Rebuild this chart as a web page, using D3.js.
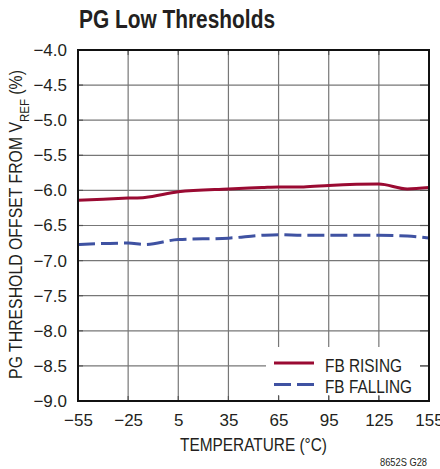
<!DOCTYPE html>
<html>
<head>
<meta charset="utf-8">
<script src="https://cdn.jsdelivr.net/npm/d3@7"></script>
<style>
  body { margin: 0; background: #fff; }
  svg { display: block; }
  text { font-family: "Liberation Sans", Arial, sans-serif; fill: #231f20; }
</style>
</head>
<body>
<div id="chart"></div>
<script>
// temperatures (°C) where the curves were read
const temps = [-55, -25, -15, 5, 35, 55, 65, 80, 95, 125, 142, 155];
// PG threshold offset from VREF (%)
const fbRising = [-6.14, -6.11, -6.10, -6.02, -5.98, -5.96, -5.95, -5.95, -5.93, -5.91, -5.98, -5.96];
const fbFalling = [-6.77, -6.75, -6.77, -6.70, -6.68, -6.64, -6.63, -6.64, -6.64, -6.64, -6.65, -6.68];

const xTicks = [-55, -25, 5, 35, 65, 95, 125, 155];
const yTicks = [-4.0, -4.5, -5.0, -5.5, -6.0, -6.5, -7.0, -7.5, -8.0, -8.5, -9.0];

const seriesNames = ["FB RISING", "FB FALLING"];
const seriesColors = ["#9a0a32", "#3f52a2"];
const legendWidths = [77, 87];

const width = 440;
const height = 469;
const margin = { top: 50, right: 11, bottom: 68, left: 78 };
const w = width - margin.left - margin.right;
const h = height - margin.top - margin.bottom;

const svg = d3.select("#chart")
	.append("svg")
		.attr("width", width)
		.attr("height", height);

// title
svg.append("text")
	.attr("x", 79)
	.attr("y", 28)
	.attr("textLength", 196)
	.attr("lengthAdjust", "spacingAndGlyphs")
	.style("font-size", "25px")
	.style("font-weight", "bold")
	.text("PG Low Thresholds");

const bounds = svg.append("g")
	.attr("transform", `translate(${margin.left},${margin.top})`);

const xScale = d3.scaleLinear()
	.domain([-55, 155])
	.range([0, w]);

const yScale = d3.scaleLinear()
	.domain([-9, -4])
	.range([h, 0]);

// grid
bounds.append("g")
	.selectAll("line")
	.data(xTicks.slice(1, -1))
	.join("line")
		.attr("x1", d => xScale(d))
		.attr("x2", d => xScale(d))
		.attr("y1", 0)
		.attr("y2", h)
		.attr("stroke", "#777")
		.attr("stroke-width", 1.2);

bounds.append("g")
	.selectAll("line")
	.data(yTicks.slice(1, -1))
	.join("line")
		.attr("x1", 0)
		.attr("x2", w)
		.attr("y1", d => yScale(d))
		.attr("y2", d => yScale(d))
		.attr("stroke", "#777")
		.attr("stroke-width", 1.2);

// lines
const lineGen = (vals) => d3.line()
	.x((d, i) => xScale(temps[i]))
	.y(d => yScale(d))
	.curve(d3.curveMonotoneX)(vals);

bounds.append("path")
	.attr("d", lineGen(fbRising))
	.attr("fill", "none")
	.attr("stroke", seriesColors[0])
	.attr("stroke-width", 3);

bounds.append("path")
	.attr("d", lineGen(fbFalling))
	.attr("fill", "none")
	.attr("stroke", seriesColors[1])
	.attr("stroke-width", 3)
	.attr("stroke-dasharray", "17,6");

// legend (white box over grid)
const legend = bounds.append("g");
legend.append("rect")
	.attr("x", 266 - margin.left)
	.attr("y", 347 - margin.top)
	.attr("width", 154)
	.attr("height", 48)
	.attr("fill", "#fff");

seriesNames.forEach((name, i) => {
	const ly = 363 - margin.top + i * 21.5;
	legend.append("line")
		.attr("x1", 274 - margin.left)
		.attr("x2", 314 - margin.left)
		.attr("y1", ly)
		.attr("y2", ly)
		.attr("stroke", seriesColors[i])
		.attr("stroke-width", 3)
		.attr("stroke-dasharray", i === 1 ? "17,6" : null);
	legend.append("text")
		.attr("x", 325 - margin.left)
		.attr("y", ly + 8.5)
		.attr("textLength", legendWidths[i])
		.attr("lengthAdjust", "spacingAndGlyphs")
		.style("font-size", "17.5px")
		.text(name);
});

// inner tick marks
const tickLen = 5;
const ticks = bounds.append("g").attr("stroke", "#555").attr("stroke-width", 1.2);
xTicks.slice(1, -1).forEach(d => {
	ticks.append("line").attr("x1", xScale(d)).attr("x2", xScale(d)).attr("y1", h).attr("y2", h - tickLen);
	ticks.append("line").attr("x1", xScale(d)).attr("x2", xScale(d)).attr("y1", 0).attr("y2", tickLen);
});
yTicks.slice(1, -1).forEach(d => {
	ticks.append("line").attr("x1", 0).attr("x2", tickLen).attr("y1", yScale(d)).attr("y2", yScale(d));
	ticks.append("line").attr("x1", w).attr("x2", w - 9).attr("y1", yScale(d)).attr("y2", yScale(d));
});

// frame
bounds.append("rect")
	.attr("width", w)
	.attr("height", h)
	.attr("fill", "none")
	.attr("stroke", "#111")
	.attr("stroke-width", 2);

// axes labels
const fmtMinus = (s) => s.replace("-", "\u2212");

const xAxis = bounds.append("g")
	.attr("transform", `translate(0,${h})`)
	.call(d3.axisBottom(xScale).tickValues(xTicks).tickSize(0).tickPadding(0)
		.tickFormat(d => fmtMinus(d3.format("d")(d))));
xAxis.select(".domain").remove();
xAxis.selectAll("text")
	.attr("dy", null)
	.attr("y", 25)
	.style("font-size", "17px")
	.attr("fill", "#231f20");

const yAxis = bounds.append("g")
	.call(d3.axisLeft(yScale).tickValues(yTicks).tickSize(0).tickPadding(11)
		.tickFormat(d => fmtMinus(d3.format(".1f")(d))));
yAxis.select(".domain").remove();
yAxis.selectAll("text")
	.style("font-size", "17px")
	.attr("fill", "#231f20");

// axis titles
svg.append("text")
	.attr("x", margin.left + w / 2)
	.attr("y", 451)
	.attr("text-anchor", "middle")
	.attr("textLength", 147)
	.attr("lengthAdjust", "spacingAndGlyphs")
	.style("font-size", "18px")
	.text("TEMPERATURE (°C)");

const yTitle = svg.append("text")
	.attr("text-anchor", "middle")
	.style("font-size", "18px");
yTitle.append("tspan").text("PG THRESHOLD OFFSET FROM  V");
yTitle.append("tspan").attr("baseline-shift", "sub").style("font-size", "13px").text("REF");
yTitle.append("tspan").text(" (%)");
// squeeze to the condensed width of the original
const yTitleLen = yTitle.node().getComputedTextLength();
const ySqueeze = 309 / yTitleLen;
yTitle.attr("transform", `translate(22,${margin.top + h / 2 - 1}) rotate(-90) scale(${ySqueeze},1)`);

// figure code
svg.append("text")
	.attr("x", 427)
	.attr("y", 466)
	.attr("text-anchor", "end")
	.attr("textLength", 47)
	.attr("lengthAdjust", "spacingAndGlyphs")
	.style("font-size", "10.5px")
	.text("8652S G28");
</script>
</body>
</html>
